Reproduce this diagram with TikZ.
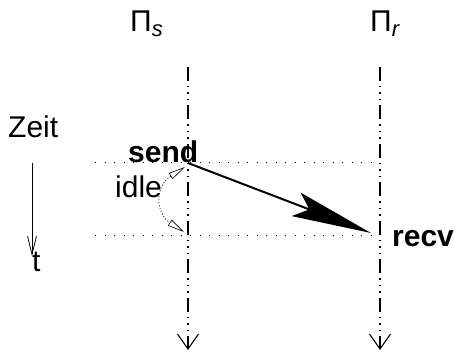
\documentclass[tikz,border=0pt]{standalone}
\usepackage{fontspec}
\setmainfont{Liberation Sans}
\usetikzlibrary{arrows.meta}
\begin{document}
\begin{tikzpicture}[x=1pt,y=-1pt,
  lbl/.style={inner sep=0pt, font=\fontsize{30}{34}\selectfont},
  bl/.style={inner sep=0pt, font=\fontsize{30}{34}\selectfont\bfseries},
  lifeline/.style={line width=2.2pt, dash pattern=on 14pt off 5pt on 1.5pt off 5pt on 1.5pt off 5pt on 1.5pt off 5pt,
     -{Straight Barb[length=15pt,width=21pt,line width=1.1pt]}},
  grid/.style={line width=1pt, dash pattern=on 1pt off 8.5pt},
  msg/.style={line width=2pt, -{Stealth[length=80pt,width=25pt,inset=14pt]}},
  idlearr/.style={line width=0.6pt, dash pattern=on 1.2pt off 1.8pt, {Triangle[open,length=17pt,width=7pt,line width=0.6pt]}-{Triangle[open,length=17pt,width=7pt,line width=0.6pt]}},
  timearr/.style={line width=0.8pt, -{Straight Barb[length=18pt,width=9pt,line width=0.8pt]}}
]
\useasboundingbox (0,0) rectangle (459,352);
% coordinates
\coordinate (stop) at (188,67);
\coordinate (sbot) at (188,350);
\coordinate (rtop) at (380,67);
\coordinate (rbot) at (380,350);
\coordinate (gl1) at (95,163);
\coordinate (gr1) at (380,163);
\coordinate (gl2) at (95,236);
\coordinate (gr2) at (380,236);
\coordinate (sp) at (188,163);
\coordinate (rp) at (371,233);
\coordinate (ia) at (185,167);
\coordinate (ib) at (184,232);
\coordinate (zt) at (32,163);
\coordinate (zb) at (32,256);
% labels
\node[lbl, anchor=base west] (pis) at (130,32) {Π\raisebox{-5pt}{\fontsize{22}{22}\selectfont\itshape s}};
\node[lbl, anchor=base west] (pir) at (370,32) {Π\raisebox{-5pt}{\fontsize{22}{22}\selectfont\itshape r}};
\node[lbl, anchor=base west] (zeit) at (8,138) {Zeit};
\node[lbl, anchor=base west] (t) at (32,272) {t};
\node[lbl, anchor=base west] (idle) at (115,198) {idle};
\node[bl, anchor=base west] (send) at (128,163) {send};
\node[bl, anchor=base west] (recv) at (392,247) {recv};
% grid
\draw[grid] (gl1) -- (gr1);
\draw[grid] (gl2) -- (gr2);
% lifelines
\draw[lifeline] (stop) -- (sbot);
\draw[lifeline] (rtop) -- (rbot);
% time
\draw[timearr] (zt) -- (zb);
% message
\draw[msg] (sp) -- (rp);
% idle
\draw[idlearr] (ia) .. controls (155,186) and (155,213) .. (ib);
\end{tikzpicture}
\end{document}
